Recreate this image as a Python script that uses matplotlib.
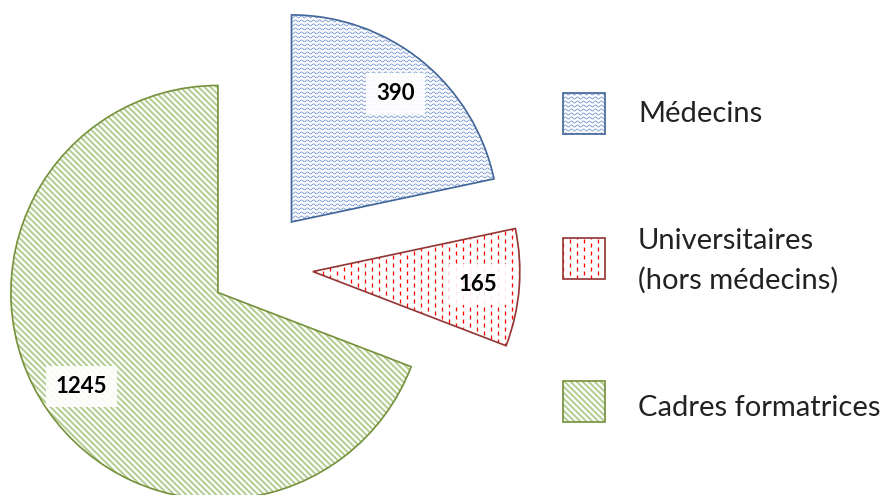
import numpy as np
import matplotlib.pyplot as plt
from matplotlib.patches import Wedge, Rectangle
from matplotlib.collections import LineCollection

plt.rcParams['font.family'] = ['Lato', 'DejaVu Sans']

# Données
categories = ['Médecins', 'Universitaires\n(hors médecins)', 'Cadres formatrices']
values = [390, 165, 1245]
explode_px = [58, 58, 45]

edge_colors = ['#41669a', '#943634', '#76923c']
hatch_colors = ['#7d9ccf', '#ff0000', '#b3cd92']
hatch_kinds = ['wave', 'dash', 'diag']

W, H = 889, 495
PX = 0.72  # 1 px en points (dpi 100)

fig = plt.figure(figsize=(W / 100, H / 100), dpi=100)
ax = fig.add_axes([0, 0, 1, 1])


def add_hatch(patch, kind, color, x0, x1, y0, y1):
    # motifs de remplissage dessinés à la main, découpés sur la forme
    segs = []
    if kind == 'wave':
        xs = np.arange(x0 - 6, x1 + 6, 0.5)
        for yy in np.arange(y0, y1 + 4, 4):
            segs.append(np.column_stack([xs, yy + 1.0 * np.sin(2 * np.pi * xs / 6)]))
        lw = 0.9
    elif kind == 'dash':
        for i, xx in enumerate(np.arange(x0, x1 + 7, 7)):
            off = 4 if i % 2 else 0
            for yy in np.arange(y0 - 8 + off, y1 + 8, 8):
                segs.append([(xx, yy), (xx, yy + 4)])
        lw = 1.3
    else:
        span = (x1 - x0) + (y1 - y0)
        for c in np.arange(-span, span, 6):
            segs.append([(x0 + c, y1), (x0 + c + (y1 - y0), y0)])
        lw = 2.0
    lc = LineCollection(segs, colors=color, linewidths=lw * PX, zorder=2)
    ax.add_collection(lc)
    lc.set_clip_path(patch)


total = sum(values)
wedges, _, autotexts = ax.pie(
    values, explode=explode_px, radius=207, center=(255, H - 267),
    startangle=90, counterclock=False, colors=['white'] * 3,
    wedgeprops=dict(edgecolor='none', linewidth=0),
    autopct=lambda p: f'{p * total / 100:.0f}', pctdistance=0.8, frame=True,
)

for w, kind, hc, ec in zip(wedges, hatch_kinds, hatch_colors, edge_colors):
    cx, cy = w.center
    r = w.r
    add_hatch(w, kind, hc, cx - r, cx + r, cy - r, cy + r)
    ax.add_patch(Wedge(w.center, w.r, w.theta1, w.theta2, fill=False,
                       ec=ec, lw=1.7 * PX, zorder=3))

for t in autotexts:
    t.set_fontsize(16)
    t.set_fontweight('bold')
    t.set_color('black')
    t.set_zorder(5)
    t.set_bbox(dict(boxstyle='square,pad=0.45', fc='white', ec='none', alpha=0.9))

# Légende (carrés + textes)
box_y = [H - 113.5, H - 258, H - 401.5]
text_y = [H - 114, H - 261, H - 408]
for cat, by, ty, kind, hc, ec in zip(categories, box_y, text_y,
                                      hatch_kinds, hatch_colors, edge_colors):
    rect = Rectangle((563, by - 20.5), 42, 41, fc='white', ec='none', zorder=1)
    ax.add_patch(rect)
    add_hatch(rect, kind, hc, 563, 605, by - 20.5, by + 20.5)
    ax.add_patch(Rectangle((563, by - 20.5), 42, 41, fill=False, ec=ec,
                           lw=1.7 * PX, zorder=3))
    ax.text(638, ty, cat, fontsize=21, va='center', ha='left',
            color='#222222', linespacing=1.6)

ax.set_xlim(0, W)
ax.set_ylim(0, H)
ax.set_aspect('equal')
ax.axis('off')

fig.savefig('out.png', dpi=100)
